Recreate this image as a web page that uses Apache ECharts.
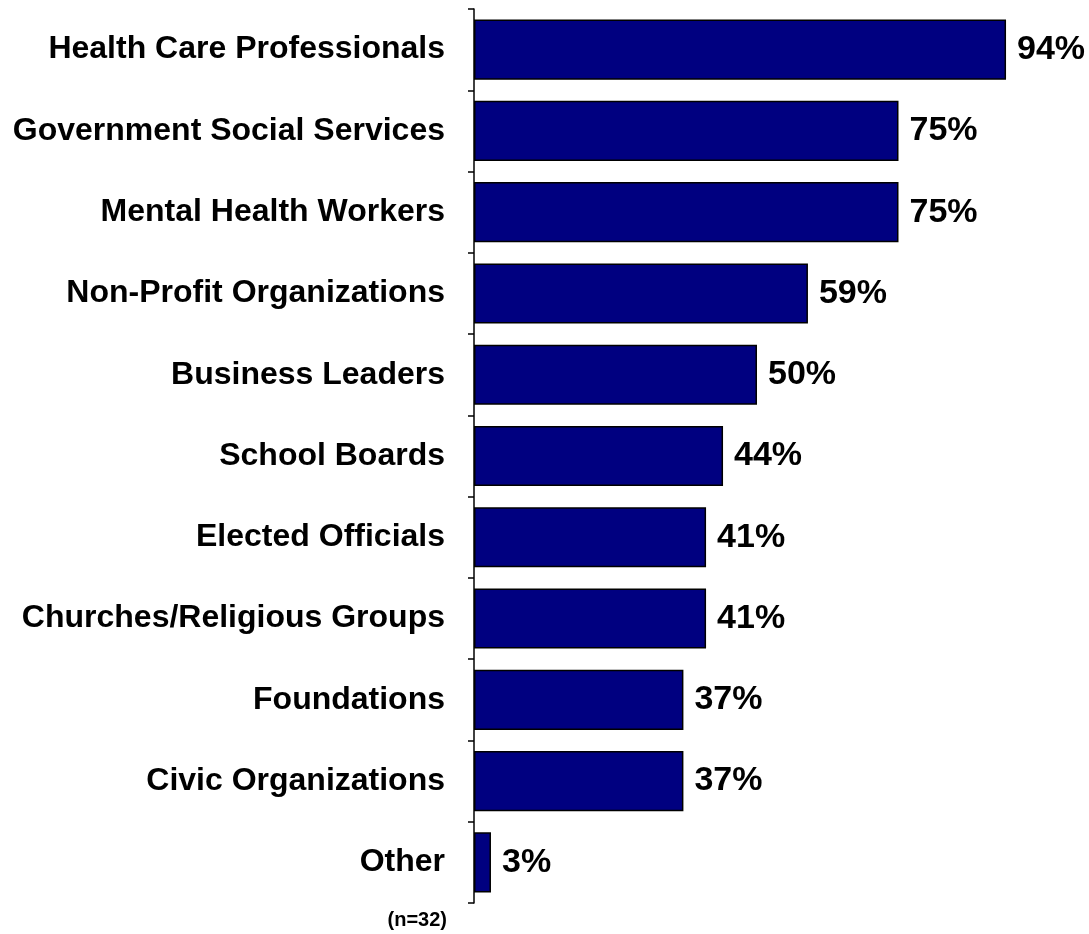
<!DOCTYPE html>
<html>
<head>
<meta charset="utf-8">
<script src="https://cdn.jsdelivr.net/npm/echarts@6/dist/echarts.min.js"></script>
<style>
  html, body { margin: 0; padding: 0; background: #fff; }
  #chart { width: 1089px; height: 934px; }
</style>
</head>
<body>
<div id="chart"></div>
<script>
// categories, top to bottom
const categories = [
  'Health Care Professionals',
  'Government Social Services',
  'Mental Health Workers',
  'Non-Profit Organizations',
  'Business Leaders',
  'School Boards',
  'Elected Officials',
  'Churches/Religious Groups',
  'Foundations',
  'Civic Organizations',
  'Other'
]
const percents = [94, 75, 75, 59, 50, 44, 41, 41, 37, 37, 3]
const sampleNote = '(n=32)'

const chart = echarts.init(document.getElementById('chart'))

chart.setOption({
  animation: false,
  grid: {
    top: 9,
    bottom: 31,
    left: 474,
    right: 49
  },
  xAxis: {
    type: 'value',
    min: 0,
    max: 100,
    show: false
  },
  yAxis: {
    type: 'category',
    data: categories,
    inverse: true,
    axisLine: { show: true, lineStyle: { color: '#000', width: 1.5 } },
    axisTick: { show: true, length: 6, lineStyle: { color: '#000', width: 1.5 } },
    axisLabel: {
      color: '#000',
      fontFamily: 'Liberation Sans, Arial, sans-serif',
      fontWeight: 'bold',
      fontSize: 32,
      margin: 29
    }
  },
  series: [{
    type: 'bar',
    data: percents,
    barCategoryGap: '26%',
    itemStyle: {
      color: '#000080',
      borderColor: '#000',
      borderWidth: 1.5
    },
    label: {
      show: true,
      position: 'right',
      distance: 11,
      formatter: '{c}%',
      color: '#000',
      fontFamily: 'Liberation Sans, Arial, sans-serif',
      fontWeight: 'bold',
      fontSize: 34
    }
  }],
  graphic: [{
    type: 'text',
    right: 1089 - 447,
    top: 910,
    style: {
      text: sampleNote,
      fill: '#000',
      font: 'bold 20px "Liberation Sans", Arial, sans-serif'
    }
  }]
})
</script>
</body>
</html>
